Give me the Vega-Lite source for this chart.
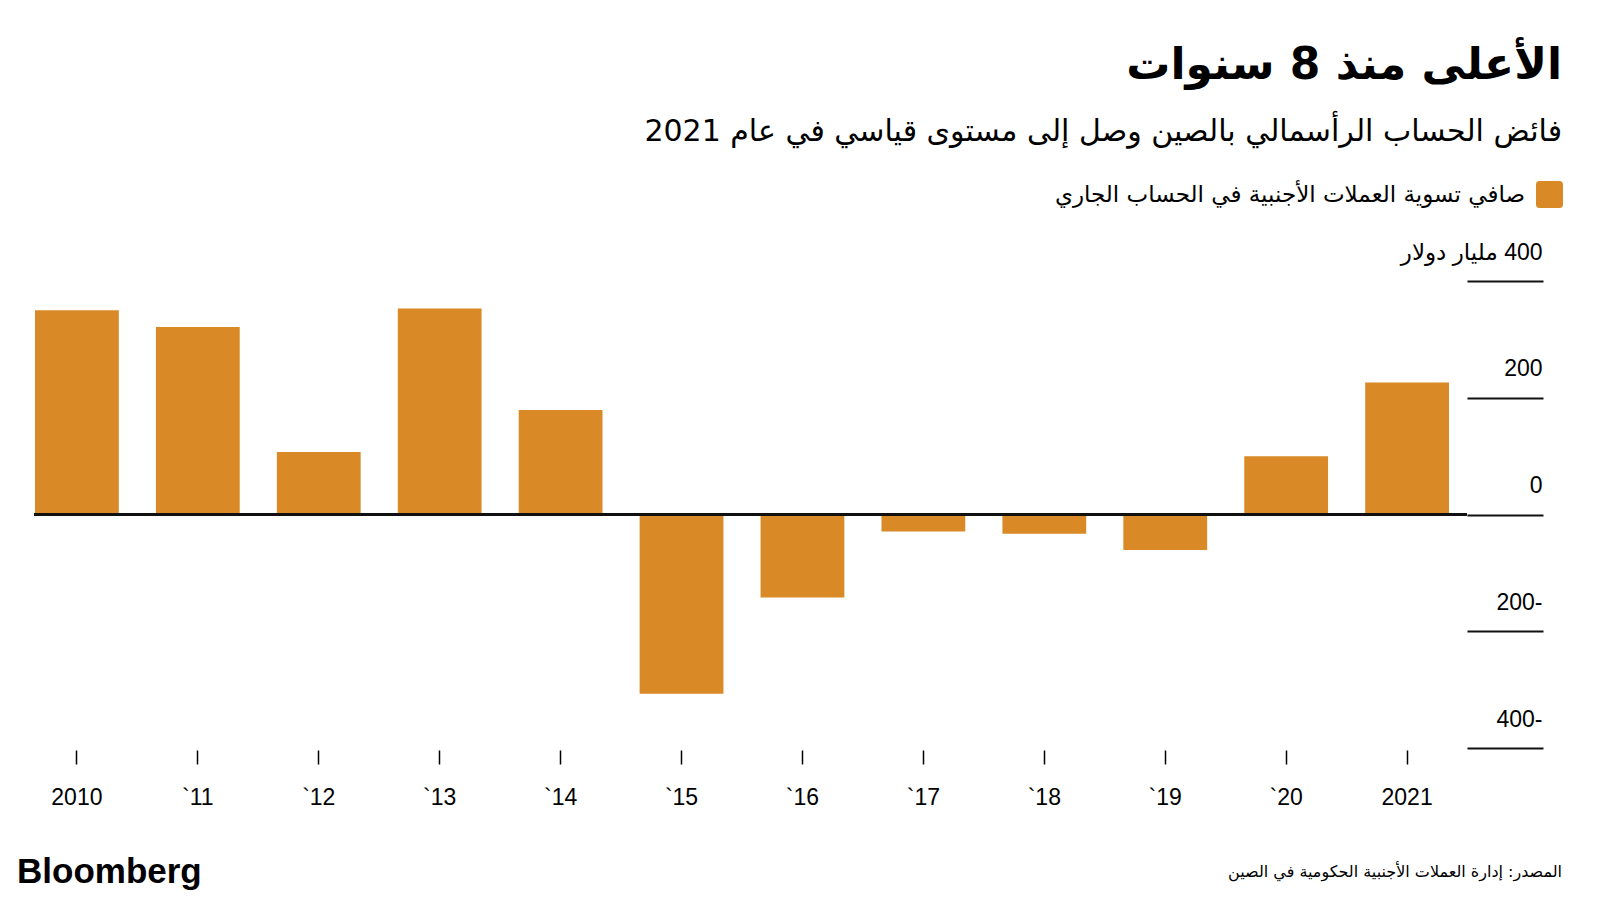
{
  "$schema": "https://vega.github.io/schema/vega-lite/v6.json",
  "background": "white",
  "padding": {"left": 17, "top": 44, "right": 20, "bottom": 5},
  "config": {
    "view": {"stroke": null},
    "font": "Liberation Sans, DejaVu Sans",
    "legend": {"padding": 0}
  },
  "title": {
    "text": "الأعلى منذ 8 سنوات",
    "subtitle": "فائض الحساب الرأسمالي بالصين وصل إلى مستوى قياسي في عام 2021",
    "anchor": "end",
    "frame": "bounds",
    "dx": -5,
    "font": "DejaVu Sans",
    "fontSize": 44,
    "fontWeight": "bold",
    "color": "#000000",
    "subtitleFont": "DejaVu Sans",
    "subtitleFontSize": 30,
    "subtitleColor": "#000000",
    "subtitlePadding": 29,
    "offset": 34
  },
  "spacing": 46,
  "vconcat": [
    {
      "width": 1433,
      "height": 467,
      "data": {
        "values": [
          {"year": "2010", "value": 350},
          {"year": "`11", "value": 321},
          {"year": "`12", "value": 107},
          {"year": "`13", "value": 353},
          {"year": "`14", "value": 179},
          {"year": "`15", "value": -307},
          {"year": "`16", "value": -142},
          {"year": "`17", "value": -29},
          {"year": "`18", "value": -33},
          {"year": "`19", "value": -61},
          {"year": "`20", "value": 100},
          {"year": "2021", "value": 226}
        ]
      },
      "layer": [
        {
          "mark": {"type": "bar", "color": "#D98A27"},
          "encoding": {
            "x": {
              "field": "year",
              "type": "ordinal",
              "sort": null,
              "scale": {"range": [1, 1415], "paddingInner": 0.307, "paddingOuter": 0},
              "axis": {
                "orient": "bottom",
                "title": null,
                "domain": false,
                "ticks": true,
                "bandPosition": 0.5,
                "tickSize": 14,
                "tickWidth": 1.5,
                "tickColor": "#000000",
                "offset": 2,
                "labelAngle": 0,
                "labelFont": "Liberation Sans",
                "labelFontSize": 23,
                "labelColor": "#000000",
                "labelPadding": 22
              }
            },
            "y": {
              "field": "value",
              "type": "quantitative",
              "scale": {"domain": [-400, 400], "nice": false},
              "axis": {
                "orient": "right",
                "title": null,
                "domain": false,
                "grid": false,
                "values": [-400, -200, 0, 200, 400],
                "tickSize": 76,
                "tickWidth": 2,
                "tickColor": "#111111",
                "labelAlign": "right",
                "labelBaseline": "alphabetic",
                "labelPadding": -1,
                "labelOffset": -22,
                "labelFont": "Liberation Sans, DejaVu Sans",
                "labelFontSize": 23,
                "labelColor": "#000000",
                "labelExpr": "datum.value == 400 ? '\u200F400 مليار دولار' : (datum.value < 0 ? ((-datum.value) + '-') : (datum.value == 200 ? '200 ' : datum.label))"
              }
            },
            "color": {
              "datum": "صافي تسوية العملات الأجنبية في الحساب الجاري",
              "type": "nominal",
              "scale": {"range": ["#D98A27"]},
              "legend": {
                "title": null,
                "orient": "none",
                "legendX": 1502,
                "legendY": -100,
                "symbolType": "M-0.75,-1H0.75A0.25,0.25 0 0 1 1,-0.75V0.75A0.25,0.25 0 0 1 0.75,1H-0.75A0.25,0.25 0 0 1 -1,0.75V-0.75A0.25,0.25 0 0 1 -0.75,-1Z",
                "symbolSize": 729,
                "symbolStrokeWidth": 0,
                "symbolOpacity": 1,
                "labelAlign": "right",
                "labelOffset": -38,
                "labelFont": "DejaVu Sans",
                "labelFontSize": 23,
                "labelColor": "#000000",
                "labelLimit": 800
              }
            }
          }
        },
        {
          "mark": {"type": "rule", "color": "#111111", "strokeWidth": 2},
          "encoding": {"y": {"datum": 0}}
        }
      ]
    },
    {
      "width": 1533,
      "height": 30,
      "data": {
        "values": [
          {"pos": "left", "text": "Bloomberg"},
          {"pos": "right", "text": "المصدر: إدارة العملات الأجنبية الحكومية في الصين"}
        ]
      },
      "layer": [
        {
          "transform": [{"filter": "datum.pos == 'left'"}],
          "mark": {"type": "text", "align": "left", "baseline": "middle", "dx": -17, "font": "Liberation Sans", "fontSize": 35, "fontWeight": "bold", "color": "#000000"},
          "encoding": {
            "x": {"field": "pos", "type": "nominal", "scale": {"type": "point", "domain": ["left", "right"], "range": [0, 1533], "padding": 0}, "axis": null},
            "text": {"field": "text"}
          }
        },
        {
          "transform": [{"filter": "datum.pos == 'right'"}],
          "mark": {"type": "text", "align": "right", "baseline": "middle", "dx": -5, "font": "DejaVu Sans", "fontSize": 16, "color": "#000000"},
          "encoding": {
            "x": {"field": "pos", "type": "nominal", "scale": {"type": "point", "domain": ["left", "right"], "range": [0, 1533], "padding": 0}, "axis": null},
            "text": {"field": "text"}
          }
        }
      ]
    }
  ]
}
